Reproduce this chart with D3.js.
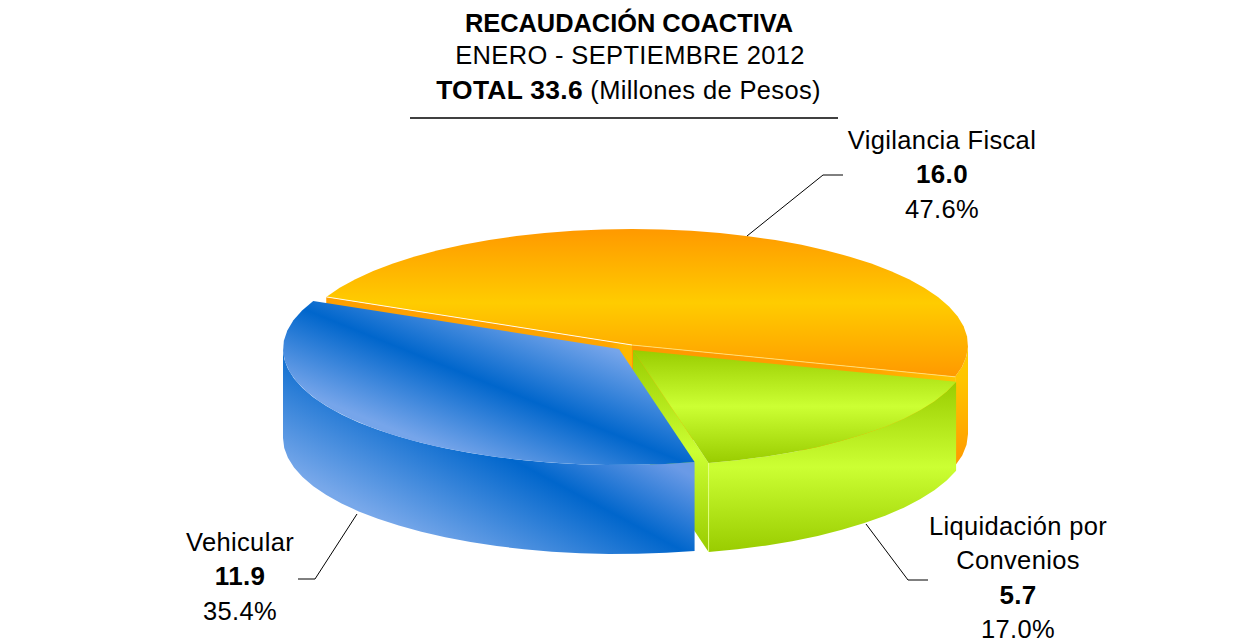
<!DOCTYPE html>
<html>
<head>
<meta charset="utf-8">
<script src="https://cdn.jsdelivr.net/npm/d3@7"></script>
<style>
  html, body { margin: 0; background: #fff; }
  text { font-family: "Liberation Sans", Arial, sans-serif; font-size: 25.5px; letter-spacing: 0.35px; fill: #000; }
  .bold { font-weight: bold; font-size: 26px; letter-spacing: 0.3px; }
</style>
</head>
<body>
<div id="chart"></div>
<script>
  // data
  const categories = ['Vigilancia Fiscal', 'Liquidación por Convenios', 'Vehicular'];
  const amounts = [16.0, 5.7, 11.9];
  const shares = [47.6, 17.0, 35.4];
  const titleTotal = '33.6';

  const width = 1235;
  const height = 641;

  // ellipse of the pie and how far it goes down
  const rx = 336;
  const ry = 116;
  const depth = 89;
  const stepDeg = 5;

  // each slice is pulled out a bit, so it has its own centre
  const centres = [{ x: 632, y: 345 }, { x: 633, y: 350 }, { x: 619, y: 349 }];

  const svg = d3.select('#chart')
    .append('svg')
    .attr('width', width)
    .attr('height', height)
    .style('display', 'block');

  const defs = svg.append('defs');

  function gradient(id, stops, coords) {
    const g = defs.append('linearGradient').attr('id', id);
    if (coords) {
      g.attr('gradientUnits', 'userSpaceOnUse');
    }
    const c = coords || { x1: 0, y1: 0, x2: 0, y2: 1 };
    g.attr('x1', c.x1).attr('y1', c.y1).attr('x2', c.x2).attr('y2', c.y2);
    stops.forEach(s => {
      g.append('stop').attr('offset', s[0]).attr('stop-color', s[1]);
    });
  }

  gradient('orangeTop', [[0, '#ff9900'], [0.5, '#ffcc00'], [1, '#ff9900']]);
  gradient('orangeSide', [[0, '#ffcc00'], [0.3, '#ffc400'], [1, '#ff9900']]);
  gradient('orangeLeft', [[0, '#ff9f00'], [0.93, '#ffa600'], [0.97, '#ffb800'], [1, '#ffb800']], { x1: 328, y1: 0, x2: 632, y2: 0 });
  gradient('orangeRight', [[0, '#ff9900'], [0.7, '#ffa000'], [1, '#ffc400']], { x1: 632, y1: 0, x2: 957, y2: 0 });
  gradient('greenFill', [[0, '#99cc00'], [0.5, '#ccff33'], [1, '#99cc00']]);
  gradient('blueTop', [[0, '#76a5ea'], [0.5, '#0066cc'], [1, '#76a5ea']], { x1: 458, y1: 455, x2: 516, y2: 311 });
  gradient('blueSide', [[0, '#78a8ea'], [0.62, '#0066cc'], [1, '#6a9ae6']], { x1: 543, y1: 606, x2: 630, y2: 443 });

  const pie = d3.pie()
    .sort(null)
    .startAngle(294.5 * Math.PI / 180)
    .endAngle((294.5 + 360) * Math.PI / 180);

  const slices = pie(amounts);

  // d3 angle: 0 at twelve o'clock, clockwise
  function project(c, a, z) {
    return [c.x + rx * Math.sin(a), c.y - ry * Math.cos(a) + z];
  }

  function arcPoints(c, a0, a1, z) {
    const n = Math.max(1, Math.round((a1 - a0) / (stepDeg * Math.PI / 180)));
    return d3.range(n + 1).map(i => project(c, a0 + (a1 - a0) * i / n, z));
  }

  const line = d3.line().curve(d3.curveLinear);

  function topPath(c, s) {
    return line([[c.x, c.y]].concat(arcPoints(c, s.startAngle, s.endAngle, 0))) + 'Z';
  }

  // outer wall, only the half of the rim that faces us
  function sidePath(c, s) {
    let out = '';
    [0, 2 * Math.PI].forEach(turn => {
      const a0 = Math.max(s.startAngle, Math.PI / 2 + turn);
      const a1 = Math.min(s.endAngle, 3 * Math.PI / 2 + turn);
      if (a1 > a0) {
        const upper = arcPoints(c, a0, a1, 0);
        const lower = arcPoints(c, a0, a1, depth).reverse();
        out += line(upper.concat(lower)) + 'Z';
      }
    });
    return out;
  }

  // flat cut wall going from the centre to the rim at angle a
  function cutPath(c, a) {
    const rim = project(c, a, 0);
    return line([[c.x, c.y], rim, [rim[0], rim[1] + depth], [c.x, c.y + depth]]) + 'Z';
  }

  const pieG = svg.append('g');

  // back to front: orange, then green, then blue
  pieG.append('path').attr('d', sidePath(centres[0], slices[0])).attr('fill', 'url(#orangeSide)');
  pieG.append('path').attr('d', cutPath(centres[0], slices[0].startAngle)).attr('fill', 'url(#orangeLeft)');
  pieG.append('path').attr('d', cutPath(centres[0], slices[0].endAngle)).attr('fill', 'url(#orangeRight)');
  pieG.append('path').attr('d', topPath(centres[0], slices[0])).attr('fill', 'url(#orangeTop)');

  // pale rim along the cut edges of the orange top
  [[slices[0].startAngle, '#fff', 0.9], [slices[0].endAngle, '#ffe27a', 0.9]].forEach(e => {
    pieG.append('path')
      .attr('d', line([[centres[0].x, centres[0].y], project(centres[0], e[0], 0)]))
      .attr('stroke', e[1])
      .attr('stroke-opacity', e[2])
      .attr('stroke-width', 1)
      .attr('fill', 'none');
  });

  pieG.append('path')
    .attr('d', cutPath(centres[1], slices[1].endAngle))
    .attr('fill', 'url(#greenFill)');
  pieG.append('path').attr('d', sidePath(centres[1], slices[1])).attr('fill', 'url(#greenFill)');
  pieG.append('path').attr('d', topPath(centres[1], slices[1])).attr('fill', 'url(#greenFill)');

  // thin light seam where the green wall meets the rim
  const seam = project(centres[1], slices[1].endAngle, 0);
  pieG.append('path')
    .attr('d', line([seam, [seam[0], seam[1] + depth]]))
    .attr('stroke', '#e2ff80')
    .attr('stroke-width', 1);

  pieG.append('path').attr('d', sidePath(centres[2], slices[2])).attr('fill', 'url(#blueSide)');
  pieG.append('path').attr('d', topPath(centres[2], slices[2])).attr('fill', 'url(#blueTop)');

  // title
  const title = svg.append('g').attr('text-anchor', 'middle');
  title.append('text').attr('x', 629).attr('y', 32)
    .attr('class', 'bold')
    .style('font-size', '25.4px')
    .style('letter-spacing', '0')
    .text('RECAUDACIÓN COACTIVA');
  title.append('text').attr('x', 630).attr('y', 64)
    .text('ENERO - SEPTIEMBRE 2012');
  const t3 = title.append('text').attr('x', 628.5).attr('y', 99);
  t3.append('tspan').attr('class', 'bold').style('font-size', '26.4px').text('TOTAL ' + titleTotal);
  t3.append('tspan').text(' (Millones de Pesos)');

  svg.append('line')
    .attr('x1', 410).attr('x2', 838)
    .attr('y1', 118).attr('y2', 118)
    .attr('stroke', '#000')
    .attr('stroke-width', 1.5);

  // labels and leader lines
  const labels = [
    { x: 942, y: 149, lines: ['Vigilancia Fiscal'], leader: [[747, 236], [823, 175], [843, 175]] },
    { x: 1018, y: 535, lines: ['Liquidación por', 'Convenios'], leader: [[866, 524], [908, 580], [928, 580]] },
    { x: 240, y: 551, lines: ['Vehicular'], leader: [[357, 514], [315, 579], [298, 579]] }
  ];

  const lineGap = 34.3;

  labels.forEach((l, i) => {
    svg.append('path')
      .attr('d', line(l.leader))
      .attr('fill', 'none')
      .attr('stroke', '#000')
      .attr('stroke-width', 1);

    const g = svg.append('g').attr('text-anchor', 'middle');
    l.lines.forEach((t, j) => {
      g.append('text').attr('x', l.x).attr('y', l.y + j * lineGap).text(t);
    });
    const n = l.lines.length;
    g.append('text').attr('x', l.x).attr('y', l.y + n * lineGap)
      .attr('class', 'bold').text(d3.format('.1f')(amounts[i]));
    g.append('text').attr('x', l.x).attr('y', l.y + (n + 1) * lineGap)
      .text(d3.format('.1f')(shares[i]) + '%');
  });
</script>
</body>
</html>
